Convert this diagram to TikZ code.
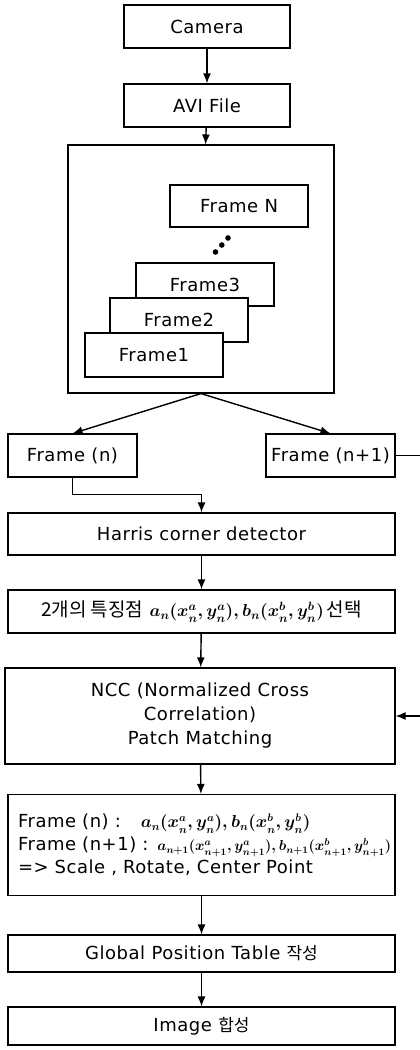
\documentclass[tikz,border=0pt]{standalone}
\usepackage{fontspec}
\setmainfont[LetterSpace=3]{DejaVu Sans}
\newfontfamily\kr{Noto Sans CJK KR}
\usepackage{amsmath}
\usetikzlibrary{arrows.meta}

% hangul words and point coordinates inside the boxes
\newcommand{\hangul}[2][17]{{\kr\fontsize{#1}{24}\selectfont #2}}
\newcommand{\pts}[2][16]{{\fontsize{#1}{20}\selectfont\boldmath $#2$}}

\begin{document}
\begin{tikzpicture}[x=1pt, y=-1pt, line width=1.4pt, >={Latex[length=10pt,width=8pt]}]
    \tikzstyle{every node}=[font=\fontsize{18}{24}\selectfont, inner sep=0pt]
    \tikzstyle{box}=[draw, fill=white, line width=1.1pt, minimum height=43]
    \tikzstyle{wide}=[box, minimum width=387]
    \tikzstyle{card}=[box, minimum width=138]
    \useasboundingbox (0,0) rectangle (420,1050);

    % input
    \draw (207,26.5) node[box, minimum width=166] (camera) {Camera};
    \draw (207,105.5) node[box, minimum width=166] (avi) {AVI File};
    \draw (201,269) node[box, minimum width=266, minimum height=248] (frames) {};

    % stack of frames
    \draw (239,206) node[card, minimum height=42] (frameN) {Frame N};
    \fill (215.5,252) circle (2.8) (221.8,245) circle (2.8) (228,238) circle (2.8);
    \draw (205,284.5) node[card] (frame3) {Frame3};
    \draw (179,320) node[card, minimum height=44] (frame2) {Frame2};
    \draw (154,355) node[card, minimum height=44] (frame1) {Frame1};

    % two consecutive frames
    \draw (72.5,455.5) node[box, minimum width=129] (framen) {Frame (n)};
    \draw (330.5,455.5) node[box, minimum width=129] (framen1) {Frame (n+1)};
    \coordinate (edge) at (423,455.5);

    % processing steps
    \draw (201.5,534) node[wide, minimum height=42] (harris) {Harris corner detector};
    \draw (201.5,611.5) node[wide] (select)
        {\hangul[19]{2개의 특징점}\ \pts[17]{a_n(x_n^a,y_n^a),b_n(x_n^b,y_n^b)}\,\hangul[19]{선택}};
    \draw (200,716) node[box, minimum width=390, minimum height=96, align=center] (ncc)
        {NCC (Normalized Cross\\Correlation)\\Patch Matching};
    \draw (201.5,845) node[wide, minimum height=101, text width=367, align=left,
        font=\fontsize{18}{23}\selectfont] (result)
        {Frame (n) :\hspace{20pt}\pts{a_n(x_n^a,y_n^a),b_n(x_n^b,y_n^b)}\\
         \mbox{Frame (n+1) :\hspace{9pt}\pts[14]{a_{n+1}(x_{n+1}^a,y_{n+1}^a),b_{n+1}(x_{n+1}^b,y_{n+1}^b)}}\\
         => Scale , Rotate, Center Point};
    \draw (201.5,953.5) node[wide, minimum height=37] (table) {Global Position Table \hangul{작성}};
    \draw (201.5,1026) node[wide, minimum height=38] (image) {Image \hangul{합성}};

    \draw[->] (camera) -- (avi);
    \draw[->] (avi) -- (frames);
    \draw[->] (frames.south) -- (framen.north);
    \draw[->] (frames.south) -- (framen1.north);
    \draw[->] (framen.south) -- ++(0,17) -| (harris.north);
    \draw[->] (framen1.east) -- (edge) |- (ncc.east);
    \draw[->] (harris) -- (select);
    \draw[->] (select) -- (ncc);
    \draw[->] (ncc) -- (result);
    \draw[->] (result) -- (table);
    \draw[->] (table) -- (image);
\end{tikzpicture}
\end{document}
